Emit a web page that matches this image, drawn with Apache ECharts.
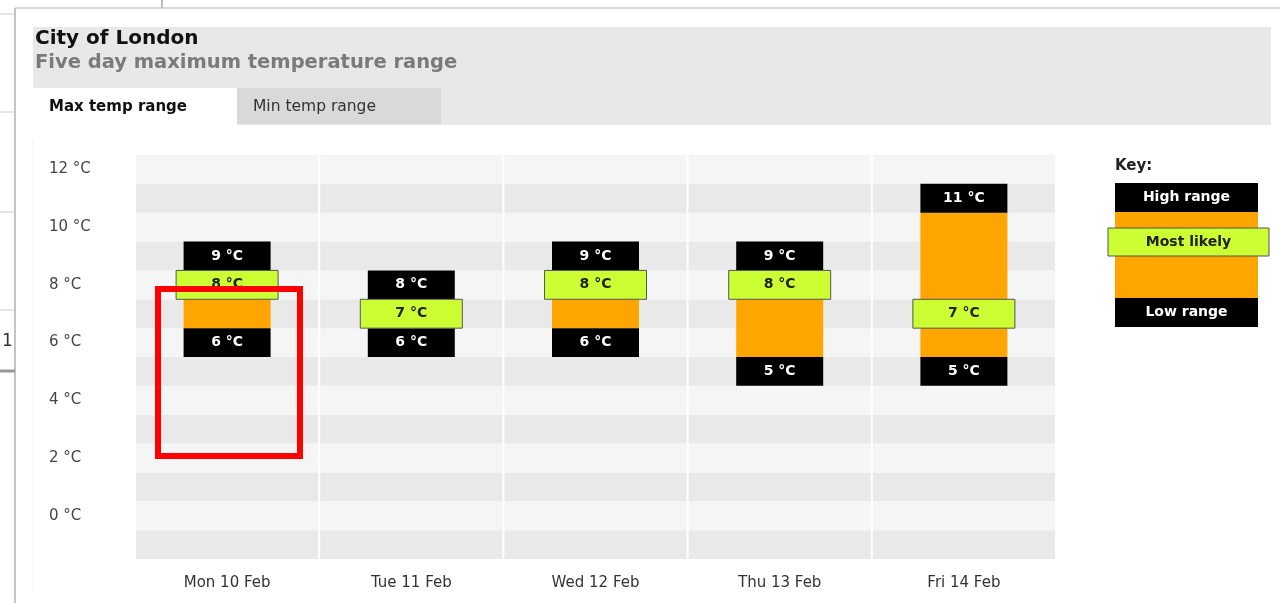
<!DOCTYPE html>
<html>
<head>
<meta charset="utf-8">
<title>City of London - five day maximum temperature range</title>
<script src="https://cdn.jsdelivr.net/npm/echarts@6/dist/echarts.min.js"></script>
<style>
  html, body { margin: 0; padding: 0; background: #fff; }
  #chart { width: 1280px; height: 603px; }
</style>
</head>
<body>
<div id="chart"></div>
<script>
// data
const days = ['Mon 10 Feb', 'Tue 11 Feb', 'Wed 12 Feb', 'Thu 13 Feb', 'Fri 14 Feb']
const highRange = [9, 8, 9, 9, 11]
const mostLikely = [8, 7, 8, 8, 7]
const lowRange = [6, 6, 6, 5, 5]
const yTicks = [0, 2, 4, 6, 8, 10, 12]
const yMin = -1.5
const yMax = 12.5

const FONT = '"DejaVu Sans", Verdana, sans-serif'
const ORANGE = '#ffa500'
const GREEN = '#ccff33'

// one stripe per whole degree, in every day column
const bandData = []
days.forEach((d, i) => {
  for (let t = Math.ceil(yMin); t <= Math.floor(yMax); t++) {
    bandData.push([i, t])
  }
})

const boxData = days.map((d, i) => [i, highRange[i], mostLikely[i], lowRange[i]])

function renderBand (params, api) {
  const i = api.value(0)
  const t = api.value(1)
  const top = api.coord([i, t + 0.5])
  const bot = api.coord([i, t - 0.5])
  const w = api.size([1, 0])[0]
  return {
    type: 'rect',
    shape: { x: top[0] - w / 2 + 1, y: top[1], width: w - 2, height: bot[1] - top[1] },
    style: { fill: t % 2 === 0 ? '#f5f5f5' : '#e9e9e9' }
  }
}

// a box one degree high, centred on t, with its label
function cell (api, i, t, w, fill, stroke, color) {
  const a = api.coord([i, t + 0.5])
  const b = api.coord([i, t - 0.5])
  return [
    {
      type: 'rect',
      shape: { x: a[0] - w / 2, y: a[1], width: w, height: b[1] - a[1] },
      style: stroke ? { fill: fill, stroke: stroke, lineWidth: 1 } : { fill: fill }
    },
    {
      type: 'text',
      x: a[0],
      y: (a[1] + b[1]) / 2,
      style: { text: t + ' °C', fill: color, font: 'bold 14px ' + FONT, align: 'center', verticalAlign: 'middle' }
    }
  ]
}

function renderBox (params, api) {
  const i = api.value(0)
  const hi = api.value(1)
  const ml = api.value(2)
  const lo = api.value(3)
  const top = api.coord([i, hi - 0.5])
  const bot = api.coord([i, lo + 0.5])
  const w = 87
  return {
    type: 'group',
    children: [
      {
        type: 'rect',
        shape: { x: top[0] - w / 2, y: top[1], width: w, height: bot[1] - top[1] },
        style: { fill: ORANGE }
      }
    ].concat(
      cell(api, i, hi, w, '#000', null, '#fff'),
      cell(api, i, lo, w, '#000', null, '#fff'),
      cell(api, i, ml, 102, GREEN, '#555', '#222')
    )
  }
}

function keyBox (y, h, x, w, fill, label, color, stroke) {
  return [
    {
      type: 'rect',
      shape: { x: x, y: y, width: w, height: h },
      style: stroke ? { fill: fill, stroke: stroke, lineWidth: 1 } : { fill: fill },
      z: 10
    },
    {
      type: 'text',
      x: x + w / 2,
      y: y + h / 2,
      style: { text: label, fill: color, font: 'bold 14px ' + FONT, align: 'center', verticalAlign: 'middle' },
      z: 11
    }
  ]
}

function hline (x1, x2, y, color, width) {
  return { type: 'line', shape: { x1: x1, y1: y, x2: x2, y2: y }, style: { stroke: color, lineWidth: width || 1 }, z: 1 }
}
function vline (x, y1, y2, color, width) {
  return { type: 'line', shape: { x1: x, y1: y1, x2: x, y2: y2 }, style: { stroke: color, lineWidth: width || 1 }, z: 1 }
}

const chart = echarts.init(document.getElementById('chart'))
chart.setOption({
  animation: false,
  title: {
    text: 'City of London',
    subtext: 'Five day maximum temperature range',
    left: 30,
    top: 23,
    itemGap: 2,
    textStyle: { fontFamily: FONT, fontWeight: 'bold', fontSize: 20, lineHeight: 22, color: '#111' },
    subtextStyle: { fontFamily: FONT, fontWeight: 'bold', fontSize: 19.5, lineHeight: 22, color: '#7a7a7a' },
    z: 10
  },
  grid: { left: 135, right: 224, top: 155, bottom: 44 },
  xAxis: {
    type: 'category',
    data: days,
    axisLine: { show: false },
    axisTick: { show: false },
    splitLine: { show: false },
    axisLabel: { color: '#333', fontFamily: FONT, fontSize: 15, margin: 17 }
  },
  yAxis: {
    type: 'value',
    min: yMin,
    max: yMax,
    interval: 0.5,
    axisLine: { show: false },
    axisTick: { show: false },
    splitLine: { show: false },
    axisLabel: {
      color: '#444',
      fontFamily: FONT,
      fontSize: 15,
      align: 'left',
      margin: 86,
      formatter: v => (yTicks.indexOf(v) >= 0 ? v + ' °C' : '')
    }
  },
  series: [
    {
      type: 'custom',
      name: 'bands',
      renderItem: renderBand,
      data: bandData,
      silent: true,
      z: 1
    },
    {
      type: 'custom',
      name: 'forecast',
      renderItem: renderBox,
      encode: { x: 0, y: [1, 3] },
      data: boxData,
      z: 3
    }
  ],
  graphic: [
    // page chrome around the widget
    hline(15, 1280, 8, '#d8d8d8', 2),
    vline(162, 0, 8, '#bbb', 2),
    vline(15, 8, 603, '#c4c4c4', 2),
    vline(33, 140, 590, '#f2f2f2', 1),
    hline(0, 15, 14, '#ccc'),
    hline(0, 15, 112, '#ccc'),
    hline(0, 15, 212, '#ccc'),
    hline(0, 15, 310, '#ccc'),
    hline(0, 15, 371, '#999', 3),
    { type: 'text', x: 2, y: 333, style: { text: '1', font: '17px ' + FONT, fill: '#333' }, z: 2 },
    // header and tabs
    { type: 'rect', shape: { x: 33, y: 27, width: 1238, height: 98 }, style: { fill: '#e8e8e8' }, z: 0 },
    { type: 'rect', shape: { x: 33, y: 88, width: 204, height: 37 }, style: { fill: '#fff' }, z: 1 },
    { type: 'rect', shape: { x: 237, y: 88, width: 204, height: 36 }, style: { fill: '#d9d9d9' }, z: 1 },
    { type: 'text', x: 49, y: 107, style: { text: 'Max temp range', font: 'bold 15px ' + FONT, fill: '#111', verticalAlign: 'middle' }, z: 2 },
    { type: 'text', x: 253, y: 107, style: { text: 'Min temp range', font: '15.5px ' + FONT, fill: '#333', verticalAlign: 'middle' }, z: 2 },
    // key
    { type: 'text', x: 1115, y: 166, style: { text: 'Key:', font: 'bold 15px ' + FONT, fill: '#222', verticalAlign: 'middle' }, z: 2 },
    { type: 'rect', shape: { x: 1115, y: 212, width: 143, height: 87 }, style: { fill: ORANGE }, z: 9 }
  ].concat(
    keyBox(183, 29, 1115, 143, '#000', 'High range', '#fff'),
    keyBox(298, 29, 1115, 143, '#000', 'Low range', '#fff'),
    keyBox(228, 28, 1108, 161, GREEN, 'Most likely', '#222', '#555'),
    // red annotation box
    [{ type: 'rect', shape: { x: 158, y: 289, width: 142, height: 167 }, style: { fill: null, stroke: '#ff0000', lineWidth: 6 }, z: 20 }]
  )
})
</script>
</body>
</html>
